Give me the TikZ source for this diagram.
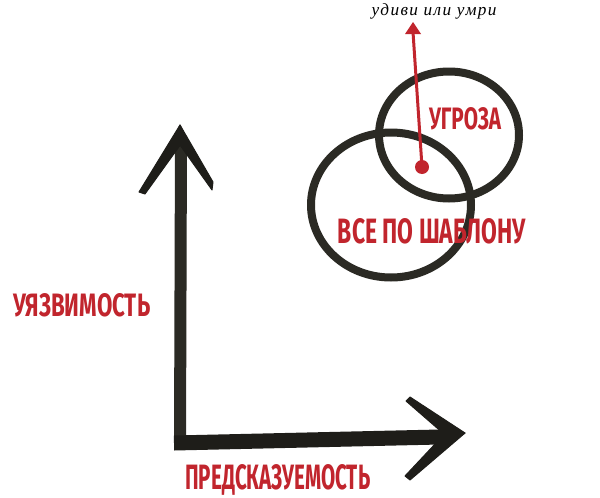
\documentclass[tikz,border=0pt]{standalone}
\usetikzlibrary{shapes.geometric}
\usepackage{fontspec}
\setmainfont{Liberation Serif}
\newfontfamily\capsfont{Fira Sans}
\newfontfamily\hintfont[LetterSpace=8]{Liberation Serif}
\definecolor{inkred}{HTML}{C1252D}
\definecolor{ink}{HTML}{2B2A24}
\definecolor{inkdark}{HTML}{1E1D19}
\tikzset{
  lbl/.style={inner sep=0pt, text=inkred, font=\capsfont\bfseries},
  ring/.style={draw=ink, line width=8pt},
  shaft/.style={draw=ink, line width=12pt},
  barb/.style={fill=inkdark, draw=inkdark, line width=1pt, line join=round},
}
\begin{document}
\begin{tikzpicture}[x=1pt,y=-1pt]
\useasboundingbox (0,0) rectangle (600,498);
\fill[white] (0,0) rectangle (600,498);
% axes
\coordinate (o) at (180,444);
\coordinate (ytip) at (180,125);
\coordinate (xtip) at (465,433);
\draw[shaft] (o) -- (181,136);
\draw[barb] (ytip) -- (186,137) -- (145,194) -- (139,192) -- cycle;
\draw[barb] (ytip) -- (213,182) -- (212,190) -- (175,138) -- cycle;
\draw[draw=inkdark, line width=15pt] (174,443) -- (440,437);
\fill[inkdark] (440,430) -- (456,430) -- (456,441) -- (440,444) -- cycle;
\draw[barb] (xtip) -- (452,441) -- (406,401) -- (410,397) -- cycle;
\draw[barb] (xtip) -- (410,480) -- (405,476) -- (451,427) -- cycle;
% circles
\node[ring, ellipse, minimum width=160pt, minimum height=145pt, inner sep=0pt] (big) at (391,205) {};
\node[ring, ellipse, minimum width=140pt, minimum height=127pt, inner sep=0pt] (small) at (449,135) {};
% red arrow
\node[circle, fill=inkred, minimum size=14pt, inner sep=0pt] (dot) at (422,167) {};
\coordinate (rtip) at (413,22);
\draw[inkred, line width=3pt] (dot.center) -- (413,32);
\fill[inkred] (rtip) -- (421,34) -- (405,34) -- cycle;
\node[inner sep=0pt, anchor=base] (hint) at (434,15) {\resizebox{125pt}{!}{\hintfont\itshape\fontsize{15}{15}\selectfont удиви или умри}};
% labels
\node[lbl, anchor=base] (threat) at (465,129) {\resizebox{72pt}{22pt}{УГРОЗА}};
\node[lbl, anchor=base] (std) at (432,243) {\resizebox{188pt}{25pt}{ВСЕ ПО ШАБЛОНУ}};
\node[lbl, anchor=base west] (vul) at (13,316) {\resizebox{137pt}{23pt}{УЯЗВИМОСТЬ}};
\node[lbl, anchor=base west] (pred) at (185,489) {\resizebox{185pt}{25pt}{ПРЕДСКАЗУЕМОСТЬ}};
\end{tikzpicture}
\end{document}
